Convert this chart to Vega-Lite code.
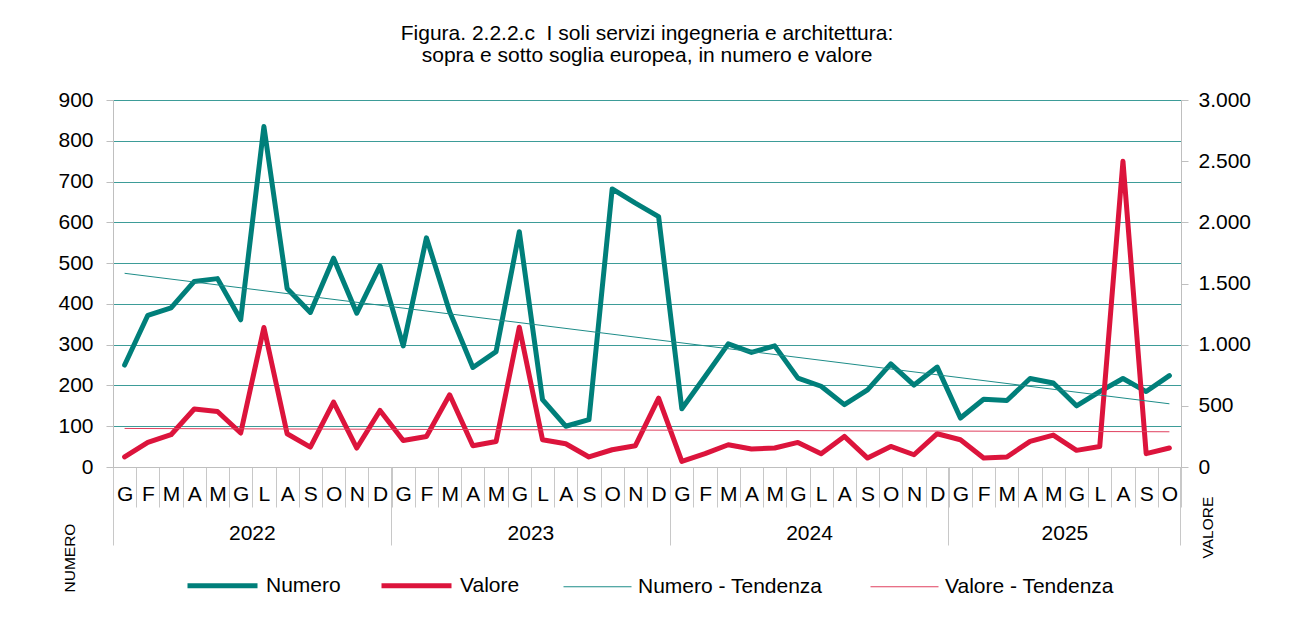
{
  "$schema": "https://vega.github.io/schema/vega-lite/v6.json",
  "width": 1068,
  "height": 367,
  "autosize": {"type": "none"},
  "padding": {"left": 113, "top": 100, "right": 111, "bottom": 152},
  "background": "white",
  "title": {
    "text": ["Figura. 2.2.2.c\u00a0 I soli servizi ingegneria e architettura:", "sopra e sotto soglia europea, in numero e valore"],
    "anchor": "middle",
    "frame": "group",
    "font": "Liberation Sans",
    "fontSize": 21,
    "fontWeight": "normal",
    "color": "#000000",
    "lineHeight": 22,
    "baseline": "bottom",
    "offset": 2
  },
  "datasets": {
    "mesi": [
      {"mese": "2022-01", "numero": 250, "valore": 82},
      {"mese": "2022-02", "numero": 372, "valore": 201},
      {"mese": "2022-03", "numero": 390, "valore": 264},
      {"mese": "2022-04", "numero": 455, "valore": 474},
      {"mese": "2022-05", "numero": 462, "valore": 454},
      {"mese": "2022-06", "numero": 361, "valore": 278},
      {"mese": "2022-07", "numero": 835, "valore": 1140},
      {"mese": "2022-08", "numero": 438, "valore": 272},
      {"mese": "2022-09", "numero": 379, "valore": 163},
      {"mese": "2022-10", "numero": 512, "valore": 531},
      {"mese": "2022-11", "numero": 377, "valore": 155},
      {"mese": "2022-12", "numero": 493, "valore": 462},
      {"mese": "2023-01", "numero": 297, "valore": 217},
      {"mese": "2023-02", "numero": 562, "valore": 250},
      {"mese": "2023-03", "numero": 381, "valore": 590},
      {"mese": "2023-04", "numero": 244, "valore": 174},
      {"mese": "2023-05", "numero": 283, "valore": 209},
      {"mese": "2023-06", "numero": 577, "valore": 1143},
      {"mese": "2023-07", "numero": 165, "valore": 223},
      {"mese": "2023-08", "numero": 100, "valore": 190},
      {"mese": "2023-09", "numero": 116, "valore": 82},
      {"mese": "2023-10", "numero": 682, "valore": 141},
      {"mese": "2023-11", "numero": 647, "valore": 174},
      {"mese": "2023-12", "numero": 614, "valore": 563},
      {"mese": "2024-01", "numero": 143, "valore": 46},
      {"mese": "2024-02", "numero": 222, "valore": 109},
      {"mese": "2024-03", "numero": 302, "valore": 182},
      {"mese": "2024-04", "numero": 281, "valore": 147},
      {"mese": "2024-05", "numero": 297, "valore": 155},
      {"mese": "2024-06", "numero": 218, "valore": 201},
      {"mese": "2024-07", "numero": 198, "valore": 109},
      {"mese": "2024-08", "numero": 153, "valore": 250},
      {"mese": "2024-09", "numero": 189, "valore": 73},
      {"mese": "2024-10", "numero": 253, "valore": 168},
      {"mese": "2024-11", "numero": 201, "valore": 100},
      {"mese": "2024-12", "numero": 245, "valore": 272},
      {"mese": "2025-01", "numero": 120, "valore": 223},
      {"mese": "2025-02", "numero": 166, "valore": 73},
      {"mese": "2025-03", "numero": 163, "valore": 82},
      {"mese": "2025-04", "numero": 217, "valore": 209},
      {"mese": "2025-05", "numero": 206, "valore": 261},
      {"mese": "2025-06", "numero": 150, "valore": 136},
      {"mese": "2025-07", "numero": 185, "valore": 168},
      {"mese": "2025-08", "numero": 217, "valore": 2500},
      {"mese": "2025-09", "numero": 185, "valore": 109},
      {"mese": "2025-10", "numero": 224, "valore": 155}
    ],
    "tendenza": [
      {"mese": "2022-01", "numero": 475, "valore": 315},
      {"mese": "2025-10", "numero": 155, "valore": 288}
    ]
  },
  "resolve": {"scale": {"y": "independent"}, "axis": {"x": "independent"}},
  "layer": [
    {
      "data": {"name": "mesi"},
      "mark": {"type": "line", "strokeWidth": 5, "strokeJoin": "round", "strokeCap": "round"},
      "encoding": {
        "x": {
          "field": "mese",
          "type": "ordinal",
          "bandPosition": 0.5,
          "scale": {"type": "band", "paddingInner": 0, "paddingOuter": 0},
          "axis": {
            "orient": "bottom",
            "title": null,
            "grid": false,
            "domain": true,
            "domainColor": "#bfbfbf",
            "ticks": true,
            "tickBand": "extent",
            "tickColor": "#c8c8c8",
            "tickSize": 40,
            "labelPadding": -6.3,
            "labelExpr": "isString(datum.value) ? ['G','F','M','A','M','G','L','A','S','O','N','D'][toNumber(substring(datum.value,5,7))-1] : ''",
            "labelAngle": 0,
            "labelBaseline": "alphabetic",
            "labelFontSize": 21,
            "labelOverlap": false,
            "labelBound": false,
            "labelFlush": false
          }
        },
        "y": {
          "field": "numero",
          "type": "quantitative",
          "scale": {"domain": [0, 900], "nice": false, "zero": true},
          "axis": {
            "orient": "left",
            "values": [0, 100, 200, 300, 400, 500, 600, 700, 800, 900],
            "title": "NUMERO",
            "titleAngle": 270,
            "titleAlign": "left",
            "titleBaseline": "middle",
            "titleX": -44,
            "titleY": 492,
            "grid": true,
            "gridColor": {"condition": {"test": "datum.value === 0", "value": "#bfbfbf"}, "value": "#3d9c98"},
            "gridWidth": 1,
            "domainColor": "#bfbfbf",
            "tickColor": "#bfbfbf",
            "tickSize": 7,
            "labelPadding": 13,
            "labelFontSize": 21
          }
        },
        "color": {
          "datum": "Numero",
          "scale": {"domain": ["Numero", "Valore"], "range": ["#007f7a", "#dc143c"]},
          "legend": {
            "title": null,
            "orient": "none",
            "legendX": 72,
            "legendY": 448,
            "direction": "horizontal",
            "symbolType": "stroke",
            "symbolSize": 4900,
            "symbolStrokeWidth": 5,
            "labelOffset": 6,
            "labelLimit": 0,
            "columnPadding": 30,
            "padding": 0
          }
        }
      }
    },
    {
      "data": {"name": "mesi"},
      "mark": {"type": "line", "strokeWidth": 5, "strokeJoin": "round", "strokeCap": "round"},
      "encoding": {
        "x": {
          "field": "mese",
          "type": "ordinal",
          "bandPosition": 0.5,
          "axis": {
            "orient": "bottom",
            "title": null,
            "grid": false,
            "domain": false,
            "ticks": false,
            "tickSize": 0,
            "values": ["2022-06", "2023-06", "2024-06", "2025-05"],
            "labelExpr": "isString(datum.value) ? substring(datum.value,0,4) : ''",
            "labelOffset": 11.61,
            "labelPadding": 72,
            "labelAngle": 0,
            "labelBaseline": "alphabetic",
            "labelFontSize": 21,
            "labelOverlap": false,
            "labelBound": false,
            "labelFlush": false
          }
        },
        "y": {
          "field": "valore",
          "type": "quantitative",
          "scale": {"domain": [0, 3000], "nice": false, "zero": true},
          "axis": {
            "orient": "right",
            "values": [0, 500, 1000, 1500, 2000, 2500, 3000],
            "labelExpr": "replace(format(datum.value, ','), ',', '.')",
            "title": "VALORE",
            "titleAngle": 270,
            "titleAlign": "left",
            "titleBaseline": "middle",
            "titleX": 26,
            "titleY": 458,
            "grid": false,
            "domainColor": "#bfbfbf",
            "tickColor": "#bfbfbf",
            "tickSize": 7,
            "labelPadding": 10,
            "labelFontSize": 21
          }
        },
        "color": {"datum": "Valore"}
      }
    },
    {
      "data": {"name": "tendenza"},
      "mark": {"type": "line", "strokeWidth": 1},
      "encoding": {
        "x": {
          "field": "mese",
          "type": "ordinal",
          "bandPosition": 0.5,
          "axis": {
            "orient": "bottom",
            "title": null,
            "grid": false,
            "domain": false,
            "labels": false,
            "ticks": true,
            "values": ["2022-01", "2023-01", "2024-01", "2025-01"],
            "bandPosition": 0,
            "tickSize": 78,
            "tickColor": "#c8c8c8"
          }
        },
        "y": {"field": "numero", "type": "quantitative", "scale": {"domain": [0, 900], "nice": false}, "axis": null},
        "stroke": {
          "datum": "Numero - Tendenza",
          "scale": {"domain": ["Numero - Tendenza", "Valore - Tendenza"], "range": ["#1d8c88", "#e0405f"]},
          "legend": {
            "title": null,
            "orient": "none",
            "legendX": 450,
            "legendY": 452,
            "direction": "horizontal",
            "symbolType": "stroke",
            "symbolSize": 4624,
            "symbolStrokeWidth": 1,
            "labelOffset": 6,
            "labelLimit": 0,
            "columnPadding": 45,
            "padding": 0
          }
        }
      }
    },
    {
      "data": {"name": "tendenza"},
      "mark": {"type": "line", "strokeWidth": 1},
      "encoding": {
        "x": {
          "field": "mese",
          "type": "ordinal",
          "bandPosition": 0.5,
          "axis": {
            "orient": "bottom",
            "title": null,
            "grid": false,
            "domain": false,
            "labels": false,
            "ticks": true,
            "values": ["2025-10"],
            "bandPosition": 1,
            "tickSize": 78,
            "tickColor": "#c8c8c8"
          }
        },
        "y": {"field": "valore", "type": "quantitative", "scale": {"domain": [0, 3000], "nice": false}, "axis": null},
        "stroke": {"datum": "Valore - Tendenza"}
      }
    }
  ],
  "config": {
    "font": "Liberation Sans",
    "view": {"stroke": null},
    "axis": {
      "labelFont": "Liberation Sans",
      "labelColor": "#000000",
      "titleFont": "Liberation Sans",
      "titleFontSize": 15.5,
      "titleFontWeight": "normal",
      "titleColor": "#000000"
    },
    "legend": {
      "labelFont": "Liberation Sans",
      "labelFontSize": 21,
      "labelColor": "#000000"
    }
  }
}
